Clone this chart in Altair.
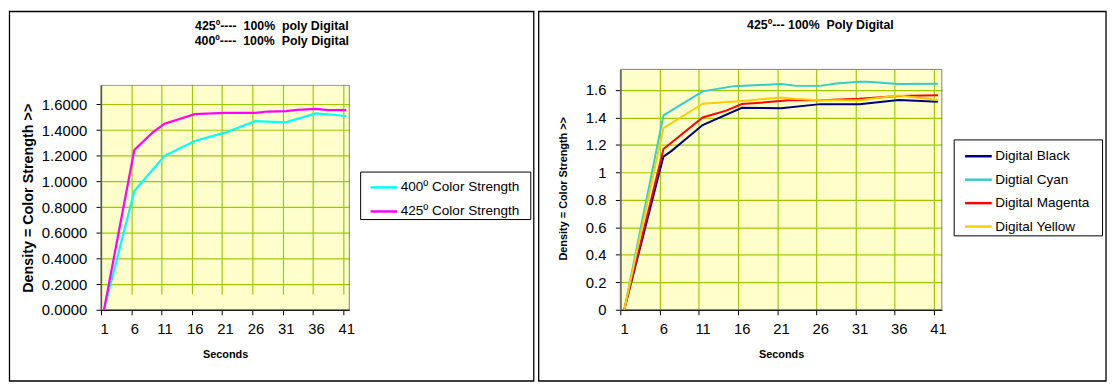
import altair as alt
import pandas as pd

# ---------------- data ----------------
# left panel
sec_400 = [1, 6, 11, 16, 21, 26, 31, 36, 41]
val_400 = [0.0, 0.925, 1.2, 1.315, 1.38, 1.47, 1.46, 1.53, 1.51]
sec_425 = [1, 6, 9, 11, 16, 21, 26, 28, 31, 33, 36, 38, 41]
val_425 = [0.0, 1.245, 1.38, 1.45, 1.525, 1.535, 1.535, 1.545, 1.548, 1.558, 1.566, 1.556, 1.556]
left_names = ["400º Color Strength", "425º Color Strength"]
left_colors = ["#00FFFF", "#FF00FF"]

# right panel
sec_black = [1, 6, 7, 11, 16, 21, 26, 31, 36, 41]
val_black = [0.0, 1.115, 1.155, 1.345, 1.47, 1.467, 1.497, 1.497, 1.527, 1.515]
sec_cyan = [1, 6, 11, 15, 21, 23, 26, 28, 31, 32, 36, 41]
val_cyan = [0.0, 1.415, 1.59, 1.628, 1.643, 1.63, 1.63, 1.647, 1.66, 1.66, 1.643, 1.646]
sec_magenta = [1, 6, 11, 14, 16, 19, 22, 26, 31, 36, 41]
val_magenta = [0.0, 1.17, 1.40, 1.45, 1.498, 1.51, 1.525, 1.525, 1.537, 1.556, 1.561]
sec_yellow = [1, 6, 11, 16, 21, 23, 26, 31, 36, 41]
val_yellow = [0.0, 1.323, 1.50, 1.52, 1.545, 1.535, 1.525, 1.525, 1.56, 1.527]
right_names = ["Digital Black", "Digtial Cyan", "Digital Magenta", "Digital Yellow"]
right_colors = ["#000080", "#33CCCC", "#FF0000", "#FFCC00"]

x_bounds = [0.5, 5.5, 10.5, 15.5, 20.5, 25.5, 30.5, 35.5, 40.5]
y_ticks = [0.0, 0.2, 0.4, 0.6, 0.8, 1.0, 1.2, 1.4, 1.6]
x_domain = [0.5, 41.5]
y_domain = [0.0, 1.75]

NB = "\u00a0"
left_title = ["425º----" + NB + " 100%" + NB + " poly Digital",
              "400º----" + NB + " 100%" + NB + " Poly Digital"]
right_title = ["425º--- 100%" + NB + " Poly Digital"]

FONT = "Arial, Liberation Sans, sans-serif"
# grid drawn under a 20% yellow wash: #80BF00 shows as #99CC00
GRID_UNDER = "#80BF00"
ONE = pd.DataFrame({"f": [0]})


def build(names, secs, vals):
    rows = []
    for n, s, v in zip(names, secs, vals):
        for a, b in zip(s, v):
            rows.append({"Series": n, "Seconds": a, "Density": b})
    return pd.DataFrame(rows)


left_df = build(left_names, [sec_400, sec_425], [val_400, val_425])
right_df = build(right_names, [sec_black, sec_cyan, sec_magenta, sec_yellow],
                 [val_black, val_cyan, val_magenta, val_yellow])

bg_df = pd.DataFrame({"Seconds": [x_domain[0]], "Seconds2": [x_domain[1]],
                      "Density": [y_domain[0]], "Density2": [y_domain[1]]})


def frame(x1, x2, y1, y2):
    return alt.Chart(ONE).mark_rect(
        fill="transparent", stroke="black", strokeWidth=1.3, clip=False
    ).encode(x=alt.value(x1), x2=alt.value(x2), y=alt.value(y1), y2=alt.value(y2))


def title_marks(lines, cx, y0, step):
    out = []
    for i, t in enumerate(lines):
        out.append(alt.Chart(ONE).mark_text(
            text=t, font=FONT, fontSize=12.5, fontWeight="bold", color="black",
            align="center", baseline="middle", clip=False
        ).encode(x=alt.value(cx), y=alt.value(y0 + i * step)))
    return out


def panel(df, names, colors, w, h, yrange, cover_top, label_off, yfmt, ytitle,
          ytitle_size, ytitle_x, ytitle_y, legx, legy, legpad, rowpad, stroke_w,
          fr, titles):
    xs = alt.Scale(domain=x_domain, nice=False, zero=False)
    ys = alt.Scale(domain=y_domain, range=yrange, nice=False, zero=True)
    xa = alt.Axis(values=x_bounds,
                  labelExpr="format(datum.value + 0.5, 'd')",
                  labelOffset=label_off, grid=True, gridColor=GRID_UNDER,
                  gridWidth=1.2, zindex=0,
                  tickSize=5, tickColor="black",
                  domainColor="black", domainWidth=1.3, labelFontSize=15, labelFont=FONT,
                  labelColor="black", labelPadding=7.5, labelFlush=False,
                  labelOverlap=False,
                  title="Seconds", titleFont=FONT, titleFontSize=11,
                  titleFontWeight="bold", titleColor="black",
                  titleY=45, titleBaseline="middle")
    ya = alt.Axis(values=y_ticks, format=yfmt, grid=True, gridColor=GRID_UNDER,
                  gridWidth=1.2, zindex=0,
                  tickSize=5, tickColor="black",
                  domainColor="black", domainWidth=1.3, labelFontSize=15, labelFont=FONT,
                  labelColor="black", labelPadding=9.5, labelFlush=False,
                  labelOverlap=False,
                  title=ytitle, titleFont=FONT, titleFontSize=ytitle_size,
                  titleFontWeight="bold", titleColor="black",
                  titleX=ytitle_x, titleY=ytitle_y, titleAngle=270,
                  titleBaseline="middle", titleAlign="center")

    # translucent yellow wash over the grid (white + 20% yellow = #FFFFCC)
    background = alt.Chart(bg_df).mark_rect(
        fill="#FFFF00", fillOpacity=0.2, stroke="#808080", strokeWidth=1
    ).encode(
        x=alt.X("Seconds:Q", scale=xs, axis=xa), x2="Seconds2:Q",
        y=alt.Y("Density:Q", scale=ys, axis=ya), y2="Density2:Q",
    )
    layers = [fr] + titles + [background]

    if cover_top > y_domain[1]:
        # white strip above the shorter left plot, hiding grid overhang
        cover_df = pd.DataFrame({"Seconds": [0.3], "Seconds2": [41.45],
                                 "Density": [y_domain[1] + 0.004],
                                 "Density2": [cover_top]})
        cover = alt.Chart(cover_df).mark_rect(fill="white").encode(
            x=alt.X("Seconds:Q", scale=xs, axis=xa), x2="Seconds2:Q",
            y=alt.Y("Density:Q", scale=ys, axis=ya), y2="Density2:Q",
        )
        layers.append(cover)

    lines = alt.Chart(df).mark_line(strokeWidth=stroke_w, clip=False).encode(
        x=alt.X("Seconds:Q", scale=xs, axis=xa),
        y=alt.Y("Density:Q", scale=ys, axis=ya),
        color=alt.Color("Series:N", title=None,
                        scale=alt.Scale(domain=names, range=colors),
                        legend=alt.Legend(orient="none", legendX=legx, legendY=legy,
                                          symbolType="stroke", symbolSize=729,
                                          symbolStrokeWidth=2.5, labelFontSize=13.7,
                                          labelFont=FONT, labelColor="black",
                                          labelOffset=2, symbolOffset=8,
                                          labelExpr="datum.label + '\u2800'",
                                          strokeColor="black",
                                          fillColor="white", padding=legpad,
                                          rowPadding=rowpad)),
        order=alt.Order("Seconds:Q"),
    )
    layers.append(lines)
    return alt.layer(*layers).properties(width=w, height=h)


# both panels share the same view box (top at page y=67, bottom at y=310);
# the left plot area starts lower (its y range is shortened)
left = panel(left_df, left_names, left_colors, 251, 243, [243, 16], 1.885, 3.06, ".4f",
             "Density = Color Strength >>", 14.5, -73.5, 129.8,
             262, 103.3, 1, 2.3, 2.25,
             frame(-92.5, 437.5, -58.5, 315),
             title_marks(left_title, 172.7, -43.7, 15))
right = panel(right_df, right_names, right_colors, 325, 243, [243, 0], 0.0, 3.96, "~g",
              "Density = Color Strength >>", 11, -57.6, 120.2,
              337, 70.8, 2, 1.7, 2.0,
              frame(-82.5, 491, -58.5, 315),
              title_marks(right_title, 202.3, -44.7, 15))

chart = alt.hconcat(left, right, spacing=2).resolve_scale(
    x="independent", y="independent", color="independent"
).configure_view(fill="transparent", stroke="transparent").configure_axis(
    labelOverlap=False, labelFlush=False
).properties(padding=0, background="white")

chart.save("out.html", embed_options={"renderer": "svg", "actions": False})
